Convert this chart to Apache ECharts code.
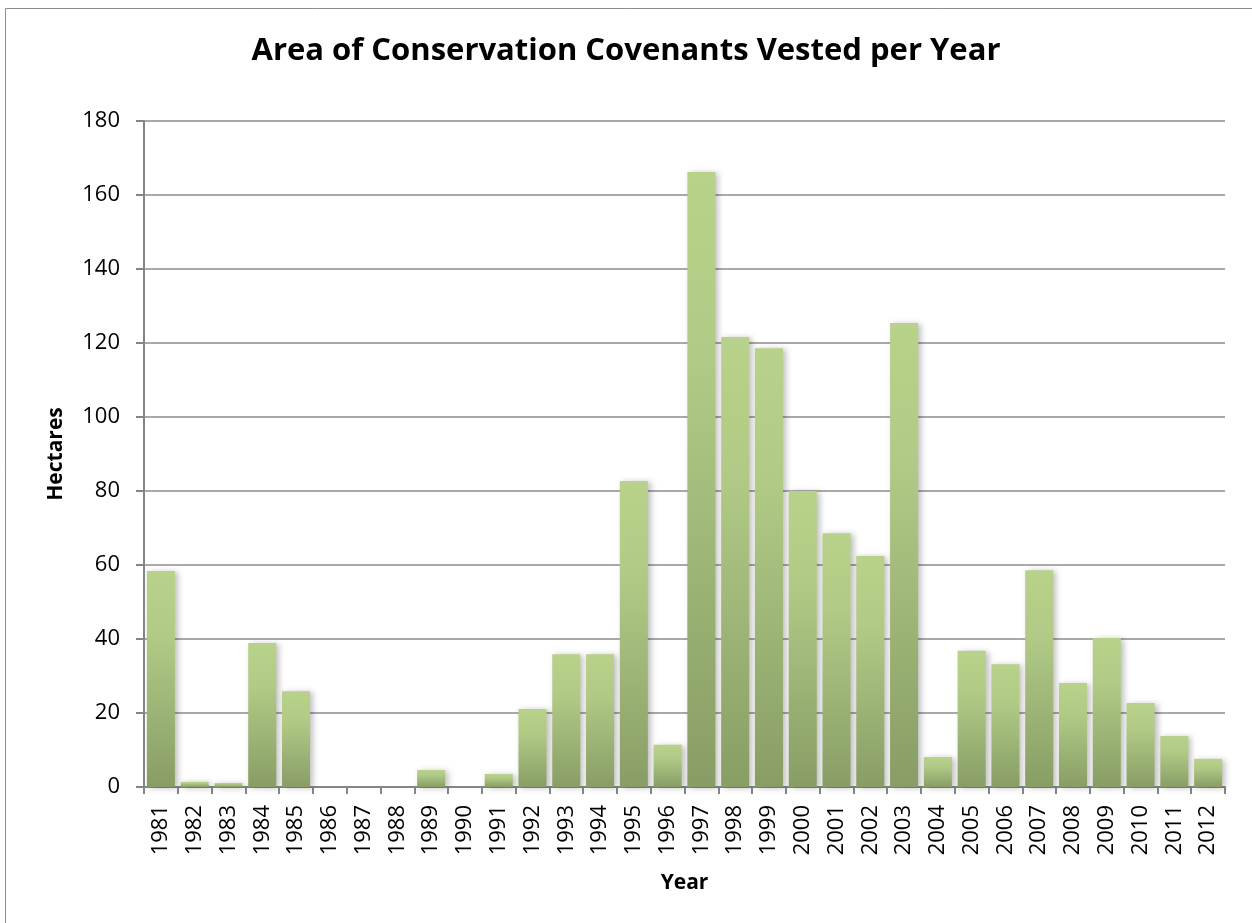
<!DOCTYPE html>
<html>
<head>
<meta charset="utf-8">
<script src="https://cdn.jsdelivr.net/npm/echarts@6/dist/echarts.min.js"></script>
<style>
  html, body { margin: 0; padding: 0; background: #fff; }
  #chart { width: 1252px; height: 923px; }
</style>
</head>
<body>
<div id="chart"></div>
<script>
// hectares vested per year
const years = ['1981', '1982', '1983', '1984', '1985', '1986', '1987', '1988', '1989', '1990',
  '1991', '1992', '1993', '1994', '1995', '1996', '1997', '1998', '1999', '2000',
  '2001', '2002', '2003', '2004', '2005', '2006', '2007', '2008', '2009', '2010',
  '2011', '2012'];
const hectares = [58.4, 1.4, 1.1, 38.9, 25.9, 0, 0, 0, 4.6, 0,
  3.5, 21.1, 35.9, 35.9, 82.7, 11.4, 166.2, 121.6, 118.6, 80,
  68.6, 62.4, 125.4, 8.1, 36.8, 33.2, 58.6, 28.1, 40.3, 22.7,
  13.8, 7.6];
const yTicks = [0, 20, 40, 60, 80, 100, 120, 140, 160, 180];

const chart = echarts.init(document.getElementById('chart'));
const font = "'Open Sans', 'Noto Sans', sans-serif";

const option = {
  animation: false,
  textStyle: { fontFamily: font },
  graphic: [{
    type: 'rect',
    shape: { x: 5.5, y: 8.5, width: 1260, height: 930 },
    style: { fill: 'none', stroke: '#8c8c8c', lineWidth: 1 },
    silent: true
  }],
  title: {
    text: 'Area of Conservation Covenants Vested per Year',
    left: 'center',
    top: 31,
    textStyle: { fontSize: 31, fontWeight: 'bold', color: '#000', fontFamily: font }
  },
  grid: { left: 144, right: 27, top: 121, bottom: 136 },
  xAxis: {
    type: 'category',
    data: years,
    name: 'Year',
    nameLocation: 'middle',
    nameGap: 86,
    nameTextStyle: { fontSize: 21, fontWeight: 'bold', color: '#000' },
    axisLine: { lineStyle: { color: '#868686', width: 2 } },
    axisTick: { show: true, length: 7, lineStyle: { color: '#868686', width: 2 } },
    axisLabel: { rotate: 90, fontSize: 22, color: '#000', margin: 18 }
  },
  yAxis: {
    type: 'value',
    min: 0,
    max: 180,
    interval: 20,
    name: 'Hectares',
    nameLocation: 'middle',
    nameGap: 77,
    nameTextStyle: { fontSize: 21, fontWeight: 'bold', color: '#000' },
    axisLine: { show: true, lineStyle: { color: '#868686', width: 2 } },
    axisTick: { show: true, length: 8, lineStyle: { color: '#868686', width: 2 } },
    axisLabel: {
      fontSize: 22, color: '#000', margin: 24,
      formatter: v => yTicks.includes(v) ? String(v) : ''
    },
    splitLine: { lineStyle: { color: '#8c8c8c', width: 1.5 } }
  },
  series: [{
    type: 'bar',
    data: hectares,
    barCategoryGap: '17%',
    itemStyle: {
      color: new echarts.graphic.LinearGradient(0, 0, 0, 1, [
        { offset: 0, color: '#b8d28b' },
        { offset: 0.3, color: '#b1cb86' },
        { offset: 1, color: '#889d65' }
      ]),
      shadowColor: 'rgba(0,0,0,0.25)',
      shadowBlur: 6,
      shadowOffsetX: 3,
      shadowOffsetY: 1
    }
  }]
};

chart.setOption(option);

window.addEventListener('resize', function() {
  chart.resize();
});
</script>
</body>
</html>
